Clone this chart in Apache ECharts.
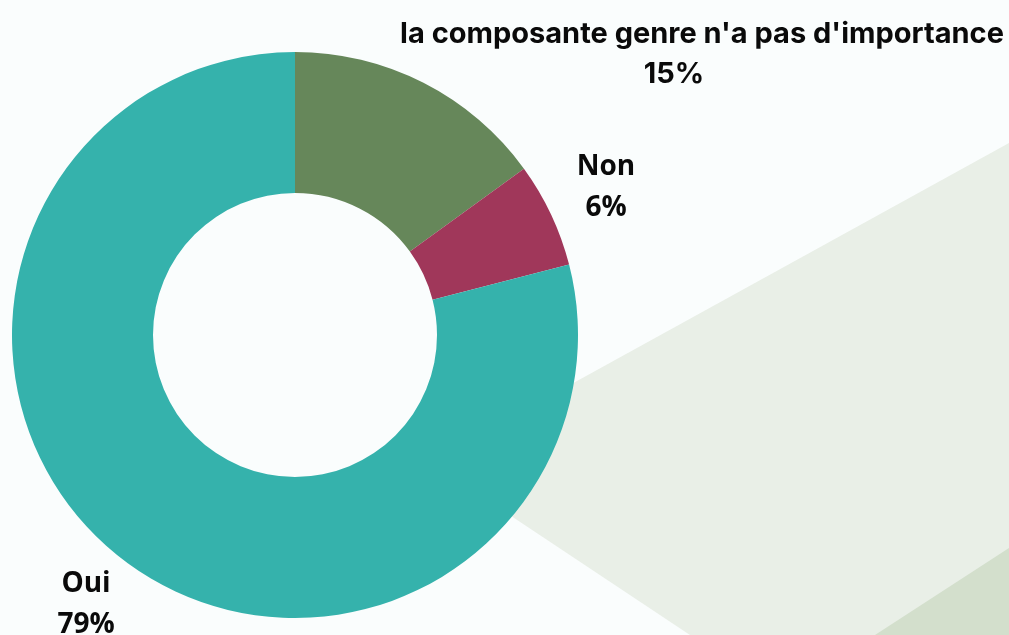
<!DOCTYPE html>
<html>
<head>
<meta charset="utf-8">
<script src="https://cdn.jsdelivr.net/npm/echarts@6/dist/echarts.min.js"></script>
<style>
  html, body { margin: 0; padding: 0; background: #fafdfd; }
  #main { width: 1009px; height: 635px; }
</style>
</head>
<body>
<div id="main"></div>
<script>
// données du graphique
const categories = ["la composante genre n'a pas d'importance", 'Non', 'Oui'];
const values = [15, 6, 79];
const colors = ['#66875a', '#a0375a', '#35b2ac'];

// position des étiquettes (centre du bloc de texte)
const labelPos = [[702, 54], [606, 188], [86, 605]];
const labelFont = ['Inter', 'Open Sans', 'Open Sans'];
const labelSize = [29, 28, 28];

const chart = echarts.init(document.getElementById('main'));

const pieData = categories.map((name, i) => {
  const lbl = {
    fontFamily: labelFont[i],
    fontSize: labelSize[i],
    lineHeight: i == 0 ? 40 : 41
  };
  if (i == 0) {
    // le pourcentage est un peu décalé à gauche dans l'original
    const st = { fontFamily: labelFont[i], fontSize: labelSize[i], fontWeight: 'bold', color: '#0a0a0a', lineHeight: 40 };
    lbl.formatter = '{n|{b}}\n{p|{d}%}';
    lbl.rich = { n: st, p: Object.assign({ padding: [0, 56, 0, 0] }, st) };
  }
  return {
    name: name,
    value: values[i],
    itemStyle: { color: colors[i] },
    label: lbl
  };
});

chart.setOption({
  backgroundColor: '#fafdfd',
  animation: false,
  graphic: [
    {
      type: 'polygon',
      z: 0,
      silent: true,
      shape: { points: [[430, 462], [1009, 143], [1009, 635], [690, 635]] },
      style: { fill: '#e9efe7' }
    },
    {
      type: 'polygon',
      z: 0,
      silent: true,
      shape: { points: [[875, 635], [1009, 548], [1009, 635]] },
      style: { fill: '#d3dfcc' }
    }
  ],
  series: [{
    type: 'pie',
    z: 2,
    center: [295, 335],
    radius: [142, 283],
    startAngle: 90,
    clockwise: true,
    silent: true,
    emphasis: { disabled: true },
    itemStyle: { borderWidth: 0 },
    label: {
      show: true,
      position: 'inside',
      overflow: 'none',
      formatter: '{b}\n{d}%',
      color: '#0a0a0a',
      fontWeight: 'bold'
    },
    labelLine: { show: false },
    labelLayout: function (params) {
      const p = labelPos[params.dataIndex];
      return { x: p[0], y: p[1], align: 'center', verticalAlign: 'middle' };
    },
    data: pieData
  }]
});
</script>
</body>
</html>
